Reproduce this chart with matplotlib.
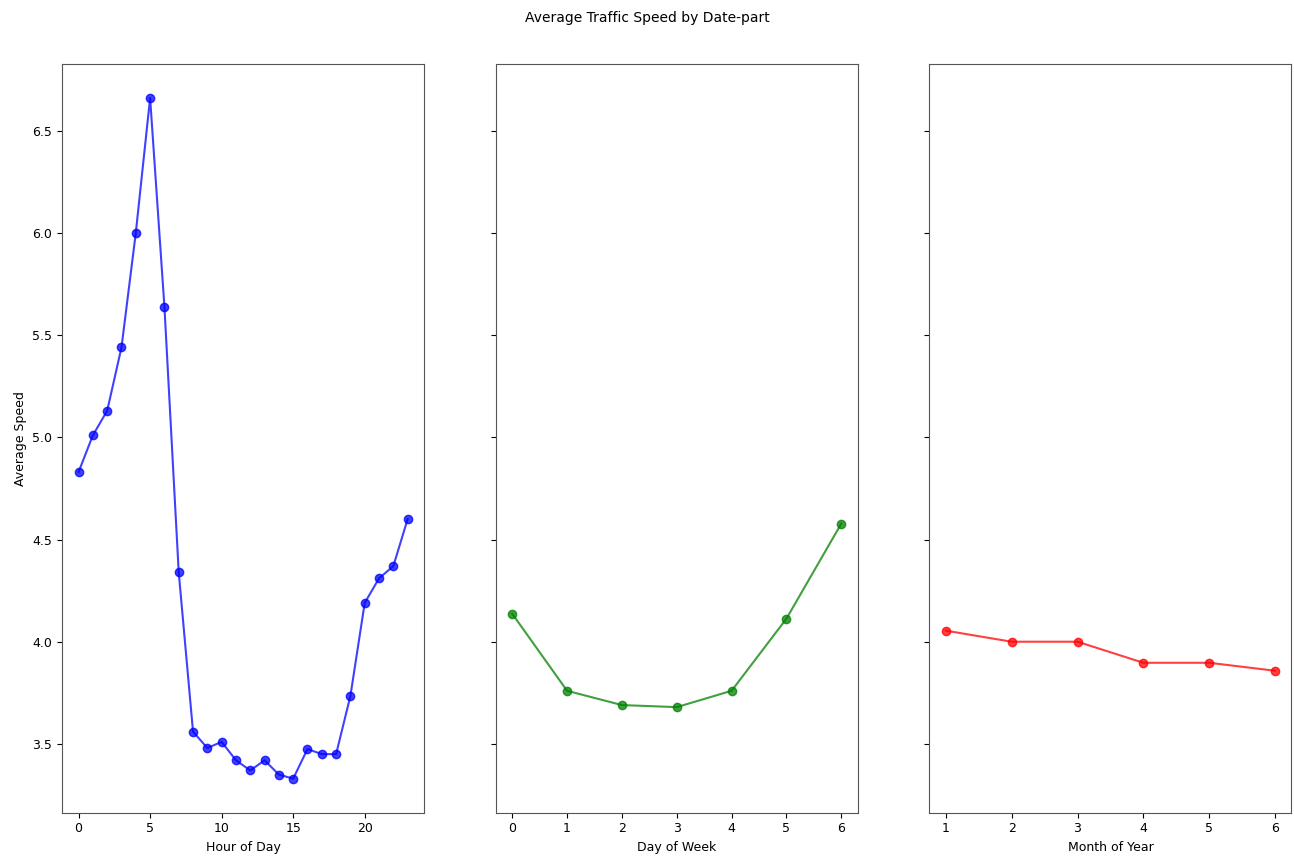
import numpy as np
import matplotlib
matplotlib.use('Agg')
import matplotlib.pyplot as plt

hours = list(range(24))
hour_speed = [4.83, 5.01, 5.13, 5.44, 6.00, 6.66, 5.64, 4.34, 3.56, 3.48,
              3.51, 3.42, 3.37, 3.42, 3.35, 3.33, 3.475, 3.45, 3.45, 3.735,
              4.19, 4.31, 4.37, 4.60]

days = list(range(7))
day_speed = [4.137, 3.76, 3.69, 3.68, 3.76, 4.113, 4.578]

months = [1, 2, 3, 4, 5, 6]
month_speed = [4.054, 4.0, 4.0, 3.897, 3.897, 3.858]

fig, axes = plt.subplots(1, 3, sharey=True, figsize=(12.94, 8.6), dpi=100)
fig.subplots_adjust(left=0.048, right=0.998, top=0.9256, bottom=0.055, wspace=0.198)
fig.suptitle('Average Traffic Speed by Date-part', fontsize=10, y=0.987)

panels = [(hours, hour_speed, 'b', 'Hour of Day'),
          (days, day_speed, 'g', 'Day of Week'),
          (months, month_speed, 'r', 'Month of Year')]

for ax, (x, y, c, lab) in zip(axes, panels):
    ax.plot(x, y, color=c, marker='o', markersize=6, linewidth=1.5, alpha=0.75)
    ax.set_xlabel(lab, fontsize=9)
    ax.tick_params(labelsize=9)
    for s in ax.spines.values():
        s.set_color('#555555')

axes[0].set_ylabel('Average Speed', fontsize=9)
axes[0].set_yticks([3.5, 4.0, 4.5, 5.0, 5.5, 6.0, 6.5])

fig.savefig('out.png', dpi=100)
